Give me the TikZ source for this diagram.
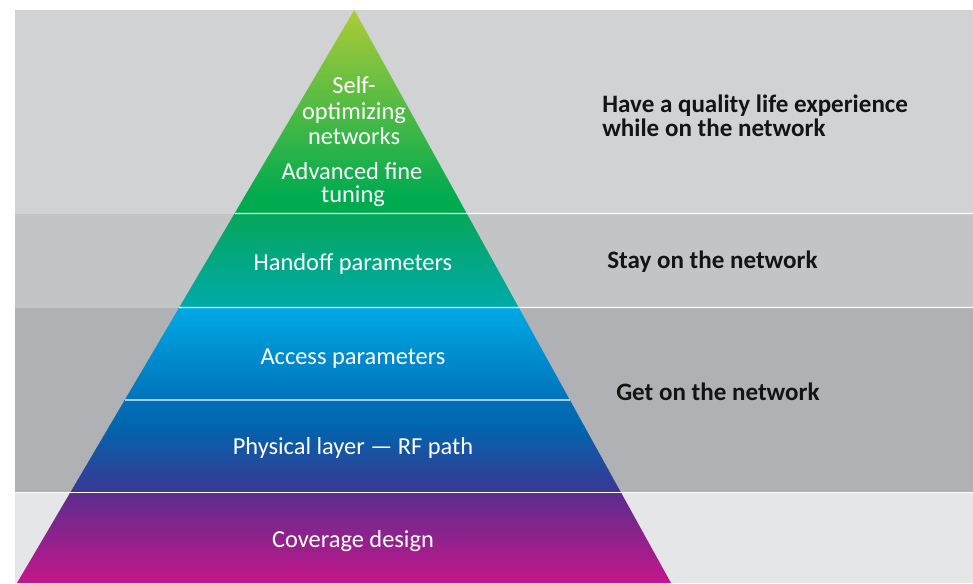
\documentclass[tikz,border=0pt]{standalone}
\usepackage{fontspec}
\setmainfont{Carlito}
\usetikzlibrary{calc}
\definecolor{bandA}{HTML}{D1D2D4}
\definecolor{bandB}{HTML}{C3C4C6}
\definecolor{bandC}{HTML}{B0B1B4}
\definecolor{bandD}{HTML}{E5E6E7}
\definecolor{gA}{HTML}{AECC37}
\definecolor{gB}{HTML}{00AB4F}
\definecolor{tA}{HTML}{05A65A}
\definecolor{tB}{HTML}{00AAAB}
\definecolor{cA}{HTML}{00A9E5}
\definecolor{cB}{HTML}{0072BA}
\definecolor{pA}{HTML}{0070B8}
\definecolor{pM}{HTML}{0066AD}
\definecolor{pB}{HTML}{3C3692}
\definecolor{mA}{HTML}{5C2D8E}
\definecolor{mB}{HTML}{C5168B}
\definecolor{ink}{HTML}{141414}
\begin{document}
\begin{tikzpicture}[x=0.75pt,y=-0.75pt,
  pyrtext/.style={text=white,font=\fontsize{18.3}{20}\selectfont,anchor=base,inner sep=0pt},
  sidetext/.style={text=ink,font=\fontsize{18.8}{24}\selectfont\bfseries,anchor=base west,inner sep=0pt},
  sepline/.style={white,line width=1.1pt},
  inline/.style={white,opacity=0.65,line width=1.1pt}]
\useasboundingbox (0,0) rectangle (973,583);
% background bands
\fill[bandA] (15,10) rectangle (973,213.5);
\fill[bandB] (15,213.5) rectangle (973,307.5);
\fill[bandC] (15,307.5) rectangle (973,492.5);
\fill[bandD] (15,492.5) rectangle (973,583);
% pyramid
\coordinate (apex) at (354.3,10);
\coordinate (bl) at (17,583);
\coordinate (br) at (671,583);
\begin{scope}
  \clip (apex) -- (br) -- (bl) -- cycle;
  \shade[top color=gA,bottom color=gB] (0,9) rectangle (973,195.5);
  \fill[gB] (0,195) rectangle (973,214);
  \shade[top color=tA,bottom color=tB] (0,213.5) rectangle (973,308);
  \shade[top color=cA,bottom color=cB] (0,307.5) rectangle (973,400.5);
  \shade[top color=pA,bottom color=pM] (0,400) rectangle (973,426);
  \shade[top color=pM,bottom color=pB] (0,425.5) rectangle (973,493);
  \shade[top color=mA,bottom color=mB] (0,492.5) rectangle (973,584);
\end{scope}
% separator lines
\coordinate (l1) at ($(apex)!0.35515!(bl)$);
\coordinate (r1) at (973,213.5);
\coordinate (l2) at ($(apex)!0.51920!(bl)$);
\coordinate (r2) at (973,307.5);
\coordinate (l3) at ($(apex)!0.68063!(bl)$);
\coordinate (r3) at ($(apex)!0.68063!(br)$);
\coordinate (l4) at (15,492.5);
\coordinate (r4) at (973,492.5);
\draw[sepline] (l1) -- (r1);
\draw[sepline] (l2) -- (r2);
\draw[inline] (l3) -- (r3);
\draw[sepline] (l4) -- (r4);
% pyramid texts
\node[pyrtext] (self1) at (354,93) {Self-};
\node[pyrtext] (self2) at (354,119.5) {optimizing};
\node[pyrtext] (self3) at (354,144.5) {networks};
\node[pyrtext] (adv1) at (352,179) {Advanced fine};
\node[pyrtext] (adv2) at (353,202.5) {tuning};
\node[pyrtext] (hand) at (353,270) {Handoff parameters};
\node[pyrtext] (acc) at (353,364) {Access parameters};
\node[pyrtext] (phys) at (353,454) {Physical layer — RF path};
\node[pyrtext] (cov) at (353,547.5) {Coverage design};
% side texts
\node[sidetext] (q1) at (602,112.3) {Have a quality life experience};
\node[sidetext] (q2) at (602,136.7) {while on the network};
\node[sidetext] (stay) at (607,268.5) {Stay on the network};
\node[sidetext] (get) at (616,400.5) {Get on the network};
\end{tikzpicture}
\end{document}
